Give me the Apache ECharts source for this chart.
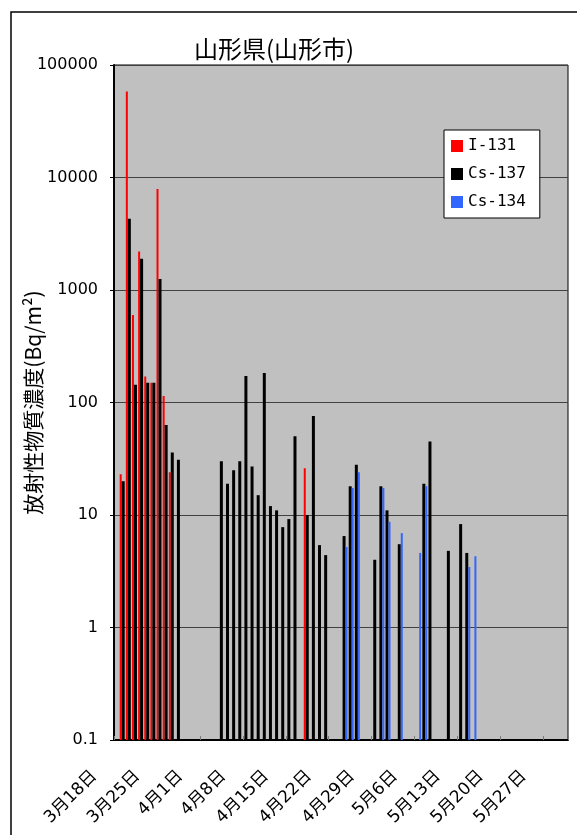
<!DOCTYPE html>
<html><head><meta charset="utf-8">
<script src="https://cdn.jsdelivr.net/npm/echarts@6/dist/echarts.min.js"></script>
<style>html,body{margin:0;padding:0;background:#fff}#c{width:577px;height:835px}</style>
</head><body><div id="c"></div>
<script>
// one category per day, 3/18 .. 5/30
const days = [
  '3月18日','3月19日','3月20日','3月21日','3月22日','3月23日','3月24日','3月25日','3月26日','3月27日','3月28日','3月29日','3月30日','3月31日',
  '4月1日','4月2日','4月3日','4月4日','4月5日','4月6日','4月7日','4月8日','4月9日','4月10日','4月11日','4月12日','4月13日','4月14日','4月15日',
  '4月16日','4月17日','4月18日','4月19日','4月20日','4月21日','4月22日','4月23日','4月24日','4月25日','4月26日','4月27日','4月28日','4月29日','4月30日',
  '5月1日','5月2日','5月3日','5月4日','5月5日','5月6日','5月7日','5月8日','5月9日','5月10日','5月11日','5月12日','5月13日','5月14日','5月15日',
  '5月16日','5月17日','5月18日','5月19日','5月20日','5月21日','5月22日','5月23日','5月24日','5月25日','5月26日','5月27日','5月28日','5月29日','5月30日'
];
const yTickLabels = ['0.1','1','10','100','1000','10000','100000'];

const i131Dates  = ['3月19日','3月20日','3月21日','3月22日','3月23日','3月24日','3月25日','3月26日','3月27日','4月18日'];
const i131Values = [23, 58000, 600, 2200, 170, 150, 7900, 114, 24, 26];

const cs137Dates = ['3月19日','3月20日','3月21日','3月22日','3月23日','3月24日','3月25日','3月26日','3月27日','3月28日',
  '4月4日','4月5日','4月6日','4月7日','4月8日','4月9日','4月10日','4月11日','4月12日','4月13日','4月14日','4月15日','4月16日',
  '4月18日','4月19日','4月20日','4月21日','4月24日','4月25日','4月26日','4月29日','4月30日','5月1日','5月3日','5月7日','5月8日',
  '5月11日','5月13日','5月14日'];
const cs137Values = [20, 4300, 144, 1900, 150, 150, 1250, 63, 36, 31,
  30, 19, 25, 30, 172, 27, 15, 183, 12, 11, 7.8, 9.2, 50,
  10, 76, 5.4, 4.4, 6.5, 18, 28, 4.0, 18, 11, 5.5, 19, 45,
  4.8, 8.3, 4.6];

const cs134Dates  = ['4月24日','4月25日','4月26日','4月30日','5月1日','5月3日','5月6日','5月7日','5月14日','5月15日'];
const cs134Values = [5.2, 17.4, 24, 17.4, 8.7, 6.9, 4.6, 18, 3.45, 4.3];

const pairs = (d, v) => d.map((x, i) => [x, v[i]]);

const chart = echarts.init(document.getElementById('c'), null, {renderer: 'canvas'});
const barCommon = {type: 'bar', barGap: '0%', barCategoryGap: '0%'};
chart.setOption({
  animation: false,
  backgroundColor: '#fff',
  title: {
    text: '山形県(山形市)', left: 269, top: 32, textAlign: 'center',
    textStyle: {fontFamily: 'Noto Sans CJK JP', fontSize: 24, fontWeight: 'normal', color: '#000'}
  },
  graphic: [{
    type: 'rect', silent: true, z: 100,
    shape: {x: 11, y: 12, width: 700, height: 900},
    style: {fill: null, stroke: '#000', lineWidth: 1.5}
  }],
  legend: {
    orient: 'vertical', left: 444, top: 130,
    data: ['I-131', 'Cs-137', 'Cs-134'],
    icon: 'rect', itemWidth: 12, itemHeight: 12, itemGap: 12,
    backgroundColor: '#fff', borderColor: '#000', borderWidth: 1, borderRadius: 0,
    padding: [8, 14, 8, 7],
    textStyle: {fontFamily: 'DejaVu Sans Mono', fontSize: 16, color: '#000'}
  },
  grid: {
    left: 114, top: 65, width: 454, height: 675,
    show: true, backgroundColor: '#c0c0c0', borderColor: '#000', borderWidth: 1,
    outerBoundsMode: 'none'
  },
  xAxis: {
    type: 'category', data: days, boundaryGap: true,
    axisLine: {show: true, lineStyle: {color: '#000', width: 2}},
    axisTick: {show: true, inside: true, interval: 6, length: 4, lineStyle: {color: '#7a7a7a', width: 1}},
    axisLabel: {interval: 6, rotate: 45, fontSize: 17, fontFamily: 'DejaVu Sans, Noto Sans CJK JP',
      color: '#000', margin: 11, padding: [0, 32, 0, 0]},
    splitLine: {show: false}
  },
  yAxis: {
    type: 'log', logBase: 10, min: 0.1, max: 100000, startValue: 0.1,
    axisLine: {show: true, lineStyle: {color: '#000', width: 2}},
    axisTick: {show: true, length: 4, lineStyle: {color: '#000'}},
    axisLabel: {
      formatter: v => yTickLabels[Math.round(Math.log10(v)) + 1],
      fontSize: 16, fontFamily: 'DejaVu Sans', color: '#000', margin: 16
    },
    splitLine: {show: true, lineStyle: {color: '#404040', width: 1}},
    name: '放射性物質濃度(Bq/m²)', nameLocation: 'middle', nameGap: 70, nameRotate: 90,
    nameMoveOverlap: false,
    nameTextStyle: {fontSize: 21, fontFamily: 'Noto Sans CJK JP', color: '#000'}
  },
  series: [
    Object.assign({name: 'I-131', data: pairs(i131Dates, i131Values), barWidth: 2, itemStyle: {color: '#ff0000'}}, barCommon),
    Object.assign({name: 'Cs-137', data: pairs(cs137Dates, cs137Values), barWidth: 3, itemStyle: {color: '#000000'}}, barCommon),
    Object.assign({name: 'Cs-134', data: pairs(cs134Dates, cs134Values), barWidth: 2, itemStyle: {color: '#3366ff'}}, barCommon)
  ]
});
</script></body></html>
